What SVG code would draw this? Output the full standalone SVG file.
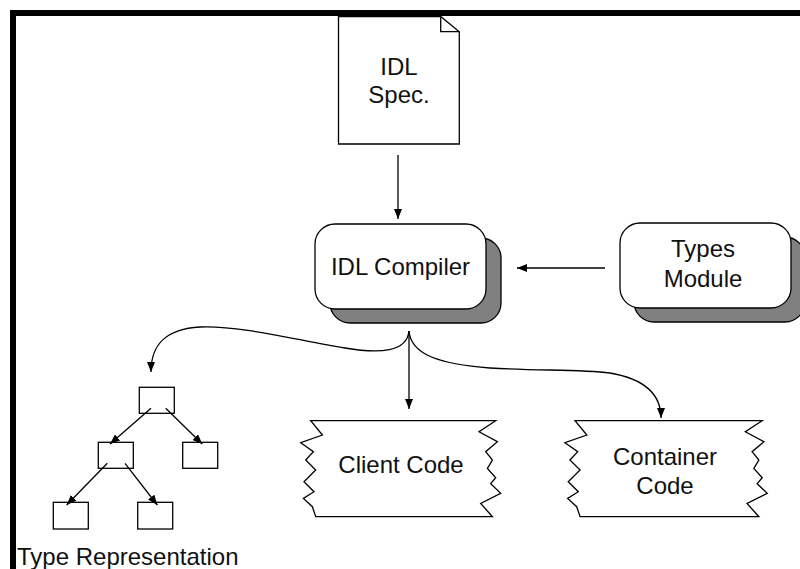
<svg xmlns="http://www.w3.org/2000/svg" width="800" height="569" viewBox="0 0 800 569">
  <style>
    .ln { fill: none; stroke: #000; stroke-width: 1.3; }
    .box { fill: #fff; stroke: #000; stroke-width: 1.3; }
    .shadow { fill: #808080; stroke: #000; stroke-width: 1.3; }
    .lbl { font-family: "Liberation Sans", Arial, sans-serif; font-size: 24px; fill: #111; text-anchor: middle; }
    .arr { marker-end: url(#head); }
  </style>
  <defs>
    <marker id="head" viewBox="0 0 10 8" refX="10" refY="4" markerWidth="10" markerHeight="8" markerUnits="userSpaceOnUse" orient="auto">
      <path d="M0,0 L10,4 L0,8 Z" fill="#000"/>
    </marker>
    <!-- torn-edge code sheet, drawn at the origin -->
    <path id="sheet" d="M0,0 L185,0 L168.3,11 L186.7,21 L175,31 L181.7,39.3 L176.7,47.7 L185,57 L180,63 L190,72.7 L170,82.7 L181.7,96 L5,96 L1.7,86 L-7.3,77.7 L3.3,71 L-6.7,61 L5,49.3 L-5,39.3 L2.7,31 L-10,22 L11.7,14.3 Z"/>
  </defs>

  <!-- frame -->
  <path d="M13,569 L13,13 L800,13" fill="none" stroke="#000" stroke-width="6"/>

  <g id="idl-spec">
    <path class="box" d="M338.5,16.5 L440.7,16.5 L459.3,31.7 L459.3,144 L338.5,144 Z"/>
    <path class="ln" d="M440.7,16.5 L440.7,31.7 L459.3,31.7"/>
    <text class="lbl" x="399" y="75">IDL</text>
    <text class="lbl" x="399" y="103">Spec.</text>
  </g>

  <g id="idl-compiler">
    <rect class="shadow" x="330" y="238" width="171" height="85" rx="20"/>
    <rect class="box" x="315" y="224" width="171" height="85" rx="20"/>
    <text class="lbl" x="400.5" y="275">IDL Compiler</text>
  </g>

  <g id="types-module">
    <rect class="shadow" x="634" y="237" width="171" height="85" rx="20"/>
    <rect class="box" x="620" y="223" width="171" height="85" rx="20"/>
    <text class="lbl" x="703" y="257">Types</text>
    <text class="lbl" x="703" y="287">Module</text>
  </g>

  <g id="client-code">
    <use href="#sheet" transform="translate(310.7,420.7)" class="box"/>
    <text class="lbl" x="401" y="473">Client Code</text>
  </g>

  <g id="container-code">
    <use href="#sheet" transform="translate(575,420.7) scale(1.012,1)" class="box"/>
    <text class="lbl" x="665" y="465">Container</text>
    <text class="lbl" x="665" y="494">Code</text>
  </g>

  <g id="type-representation">
    <rect class="box" x="139.3" y="387.3" width="35" height="26"/>
    <rect class="box" x="98.3" y="442.3" width="35" height="26"/>
    <rect class="box" x="182.7" y="442.3" width="35" height="26"/>
    <rect class="box" x="53.3" y="502.3" width="35" height="26.7"/>
    <rect class="box" x="137.7" y="502.3" width="35" height="26.7"/>
    <text class="lbl" x="17" y="565" style="text-anchor:start">Type Representation</text>
  </g>

  <g id="connectors">
    <line class="ln arr" x1="398" y1="155" x2="398" y2="219"/>
    <line class="ln arr" x1="605" y1="268" x2="517" y2="268"/>
    <path class="ln arr" d="M409,331 C407,352 380,354 345,348 C300,341 240,325 200,327 C165,329 151,345 151,372"/>
    <line class="ln arr" x1="409" y1="331" x2="409" y2="409"/>
    <path class="ln arr" d="M409,331 C411,355 440,364 490,368 C540,371 580,369 610,373 C645,379 661,395 661,418"/>
    <line class="ln arr" x1="151" y1="408.3" x2="110" y2="444"/>
    <line class="ln arr" x1="165.7" y1="408.3" x2="202.3" y2="444"/>
    <line class="ln arr" x1="107.3" y1="463.3" x2="66.7" y2="505"/>
    <line class="ln arr" x1="125" y1="463.3" x2="157.3" y2="505"/>
  </g>
</svg>
